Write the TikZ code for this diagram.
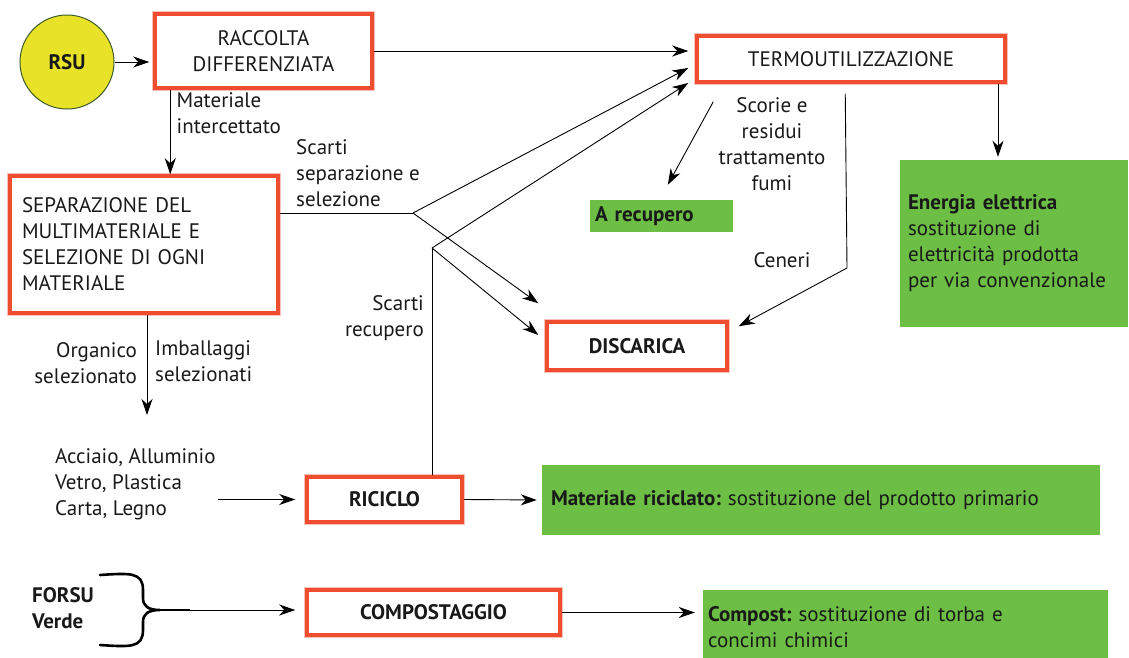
\documentclass[tikz,border=0pt]{standalone}
\usepackage{fontspec}
\setmainfont{PT Sans}
\frenchspacing
\usetikzlibrary{arrows.meta,positioning}
\definecolor{boxred}{RGB}{238,77,48}
\definecolor{boxgreen}{RGB}{108,190,69}
\definecolor{rsuyellow}{RGB}{232,226,40}
\definecolor{rsuedge}{RGB}{60,90,40}
\tikzset{
  redbox/.style={draw=boxred, line width=3.5pt, fill=white,
    preaction={draw=boxred!35, line width=6pt}, inner sep=4pt},
  bold/.style={font=\fontsize{21}{26}\selectfont\bfseries},
  greenbox/.style={fill=boxgreen, align=left},
  lbl/.style={inner sep=2pt},
  arr/.style={-{Stealth[length=16pt,width=11pt,inset=5pt]}, line width=0.9pt},
  plain/.style={line width=0.9pt},
  bracepath/.style={line width=2.6pt, line cap=round}
}
\begin{document}
\begin{tikzpicture}[x=1pt, y=-1pt, font=\fontsize{21}{26}\selectfont, text=black!90]
  \useasboundingbox (0,0) rectangle (1129,658);
  % main boxes
  \node[circle, draw=rsuedge, fill=rsuyellow, line width=1pt, minimum size=94pt, bold] (rsu) at (67,62) {RSU};
  \node[redbox, minimum width=217pt, minimum height=74pt, align=center] (racc) at (263.5,51) {RACCOLTA\\DIFFERENZIATA};
  \node[redbox, minimum width=308pt, minimum height=46pt] (termo) at (851,59) {TERMOUTILIZZAZIONE};
  \node[redbox, text width=244pt, inner sep=12pt, minimum height=137pt, align=left] (sep) at (144,244.5) {SEPARAZIONE DEL\\MULTIMATERIALE E\\SELEZIONE DI OGNI\\MATERIALE};
  \node[redbox, minimum width=180pt, minimum height=48pt, bold] (disc) at (637,346) {DISCARICA};
  \node[redbox, minimum width=155pt, minimum height=45pt, bold] (ric) at (384.5,499.5) {RICICLO};
  \node[redbox, minimum width=253pt, minimum height=45pt, bold] (comp) at (433.5,612.5) {COMPOSTAGGIO};
  % green boxes
  \node[greenbox, text width=133pt, inner sep=5pt, minimum height=32pt] (recup) at (661.5,216) {\bfseries A recupero};
  \node[greenbox, text width=212pt, inner sep=8pt, minimum height=167pt] (energia) at (1014,243.5) {\textbf{Energia elettrica}\\sostituzione di\\elettricità prodotta\\per via convenzionale};
  \node[greenbox, text width=540pt, inner sep=9pt, minimum height=70pt] (matric) at (821,500) {\textbf{Materiale riciclato:} sostituzione del prodotto primario};
  \node[greenbox, text width=395pt, inner sep=5pt, minimum height=74pt] (compost) at (905.5,627) {\textbf{Compost:} sostituzione di torba e\\concimi chimici};
  % free texts
  \node[lbl, anchor=north west, align=left] (mat) at (53,446) {Acciaio, Alluminio\\Vetro, Plastica\\Carta, Legno};
  \node[lbl, anchor=north west, align=left, bold] (forsu) at (30,585) {FORSU\\Verde};
  % junctions
  \coordinate (jsep) at (413,213);
  \coordinate (jric) at (432,248);
  \coordinate (cen) at (847,268);
  \coordinate (sel) at (147,415);
  \coordinate (btip) at (190,610);
  % connectors
  \draw[arr, shorten >=4pt] (rsu.east) -- (rsu.east -| racc.west);
  \draw[arr, shorten >=7pt] (racc.east) -- (racc.east -| termo.west);
  \draw[arr] ([xshift=17pt]racc.south west) -- ([xshift=162pt]sep.north west)
    node[lbl, at start, anchor=north west, xshift=4pt, align=left] (lint) {Materiale\\intercettato};
  \draw[plain] (sep.east |- jsep) -- (jsep);
  \node[lbl, anchor=south west, align=left] (lscsep) at (294,209) {Scarti\\separazione e\\selezione};
  \draw[arr] (jsep) -- ([shift={(-7,9)}]termo.west);
  \draw[arr] (jsep) -- ([shift={(-7,-17)}]disc.north west);
  \draw[plain] (ric.north -| jric) -- (jric);
  \draw[arr] (jric) -- ([shift={(-7,24)}]termo.west);
  \draw[arr] (jric) -- ([shift={(-7,-11)}]disc.west);
  \node[lbl, anchor=east, align=right] (lscric) at (426,318) {Scarti\\recupero};
  \draw[arr] ([shift={(18,18)}]termo.south west) -- ([shift={(78,-15)}]recup.north west);
  \node[lbl, align=center] (lscorie) at (772,144) {Scorie e\\residui\\trattamento\\fumi};
  \draw[plain] ([shift={(150,10)}]termo.south west) -- (cen);
  \draw[arr] (cen) -- ([shift={(10,6)}]disc.north east);
  \node[lbl] (lcen) at (782,260) {Ceneri};
  \draw[arr, shorten >=3pt] ([xshift=-16pt]energia.north |- termo.south) -- ([xshift=-16pt]energia.north);
  \draw[arr] (sep.south -| sel) -- (sel);
  \node[lbl, anchor=north east, align=right] (lorg) at (139,340) {Organico\\selezionato};
  \node[lbl, anchor=north west, align=left] (limb) at (153,338) {Imballaggi\\selezionati};
  \draw[arr, shorten >=10pt] (mat.east |- ric.west) -- (ric.west);
  \draw[arr, shorten >=5pt] (ric.east) -- (matric.west);
  % brace
  \draw[bracepath] (100,575) .. controls (130,573) and (143,572) .. (143,590) -- (143,598)
    .. controls (143,606) and (148,610) .. (160,610)
    .. controls (148,610) and (143,614) .. (143,622) -- (143,630)
    .. controls (143,648) and (130,647) .. (100,645);
  \draw[line width=2.6pt] (155,610) -- (btip);
  \draw[arr, shorten >=10pt] (btip) -- (btip -| comp.west);
  \draw[arr, shorten >=8pt] (comp.east) -- (comp.east -| compost.west);
\end{tikzpicture}
\end{document}
